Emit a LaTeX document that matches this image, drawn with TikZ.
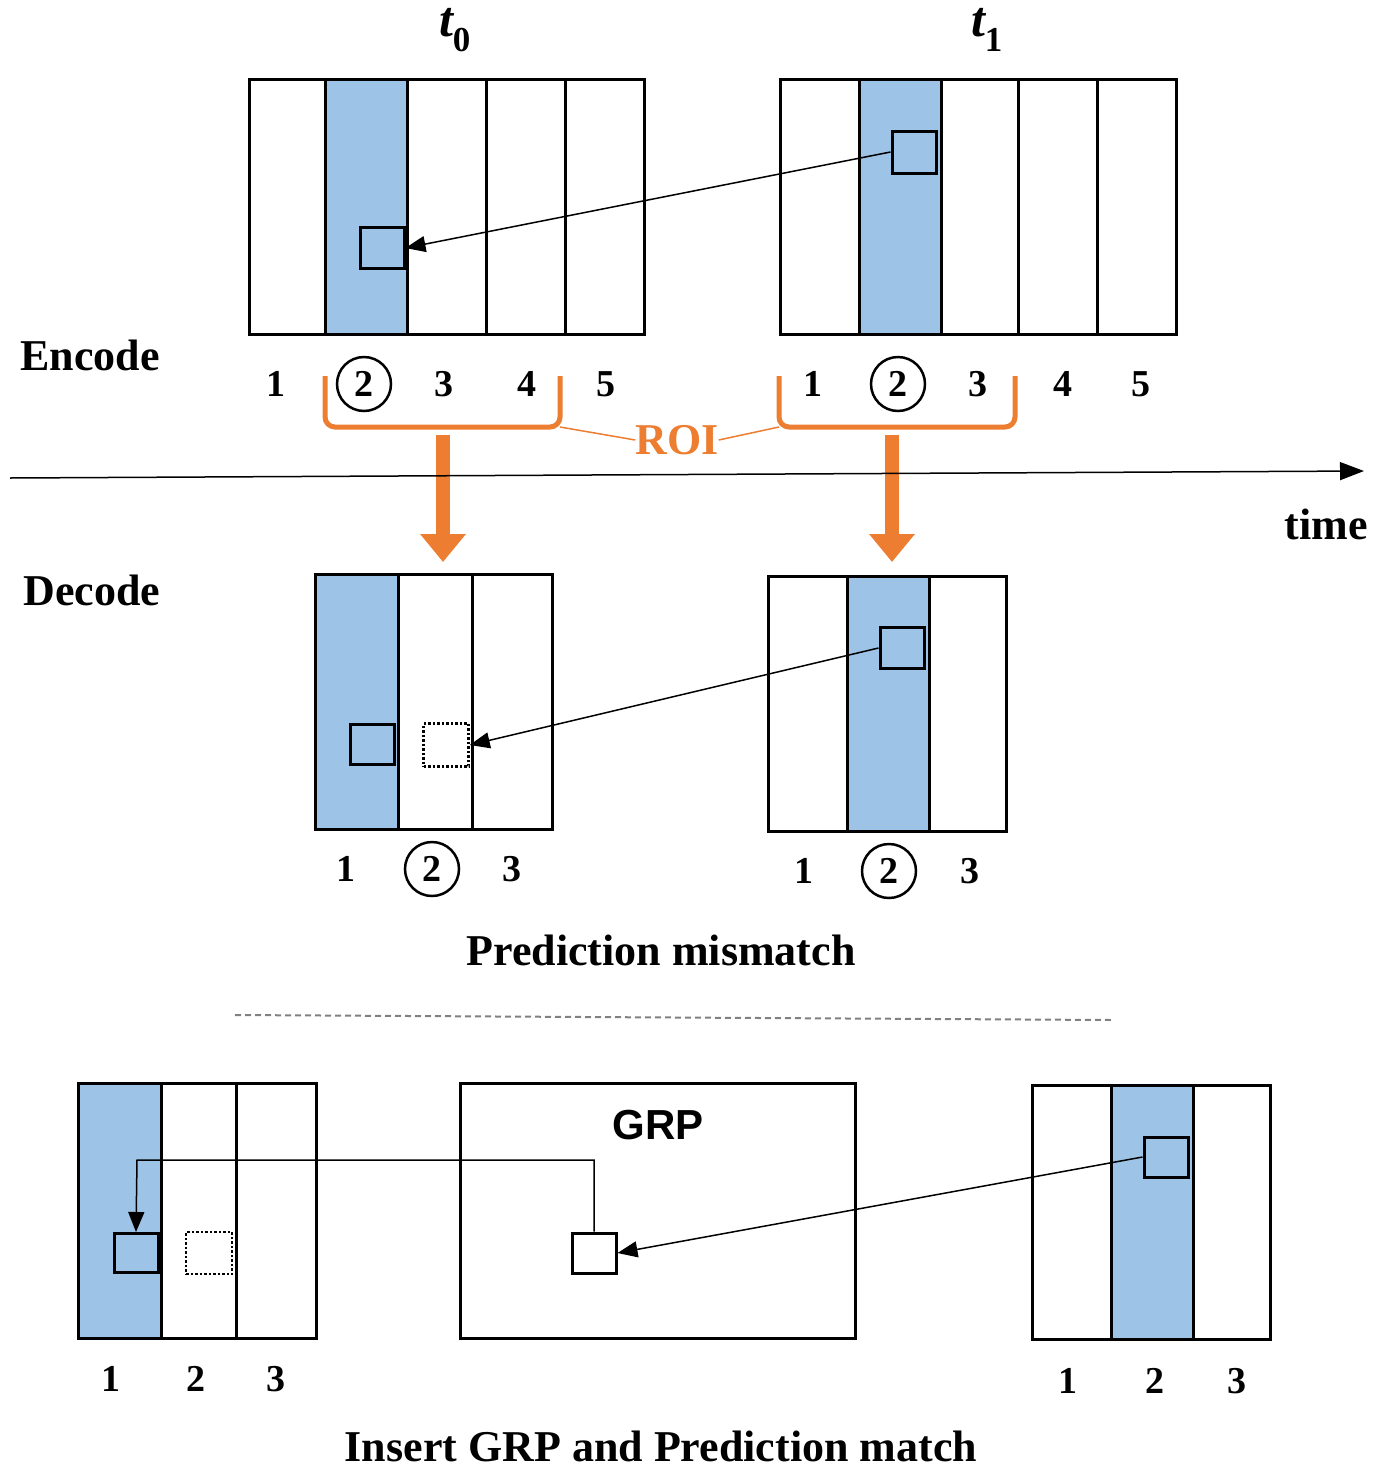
\documentclass[tikz,border=0pt]{standalone}
\usepackage{fontspec}
\setmainfont{Liberation Serif}
\newfontfamily\sansf{Liberation Sans}
\usetikzlibrary{arrows.meta}
\definecolor{roiblue}{HTML}{9DC3E6}
\definecolor{roiorange}{HTML}{ED7D31}
\begin{document}
\begin{tikzpicture}[x=1pt,y=-1pt,
  frame/.style={draw=black,line width=3pt},
  sq/.style={draw=black,line width=3pt},
  dsq/.style={draw=black,line width=2.5pt,dotted},
  lab/.style={font=\fontsize{44}{48}\selectfont\bfseries,inner sep=0pt},
  num/.style={font=\fontsize{38}{40}\selectfont\bfseries,inner sep=0pt},
  cnum/.style={num,circle,draw,line width=2.5pt,minimum size=54pt},
  mv/.style={line width=1.5pt,-{Triangle[length=20pt,width=16pt]}},
  fat/.style={draw=roiorange,line width=14pt,-{Triangle[length=28pt,width=44pt]}}]
\useasboundingbox (0,0) rectangle (1383,1470);
\newcommand{\myframe}[7]{%
  \fill[roiblue] (#5,#2) rectangle (#6,#4);
  \draw[frame] (#1,#2) rectangle (#3,#4);
  \foreach \d in {#7} {\draw[line width=3pt] (\d,#2) -- (\d,#4);}
}
% Encode
\myframe{249}{79}{644}{334}{325}{407}{325,407,486,565}
\myframe{780}{79}{1176}{334}{859}{941}{859,941,1018,1097}
\node[sq,minimum width=44pt,minimum height=41pt] (e0) at (382,248) {};
\node[sq,minimum width=44pt,minimum height=42pt] (e1) at (914,152) {};
\draw[mv] (e1.west) -- (e0.east);
\node[font=\fontsize{50}{54}\selectfont\bfseries\itshape] (t0) at (455,30) {t\textsubscript{\upshape 0}};
\node[font=\fontsize{50}{54}\selectfont\bfseries\itshape] (t1) at (987,30) {t\textsubscript{\upshape 1}};
\node[lab] (enc) at (90,355) {Encode};
\node[num] (a1) at (276,384) {1};
\node[cnum] (a2) at (364,384) {2};
\node[num] (a3) at (444,384) {3};
\node[num] (a4) at (527,384) {4};
\node[num] (a5) at (606,384) {5};
\node[num] (b1) at (813,384) {1};
\node[cnum] (b2) at (898,384) {2};
\node[num] (b3) at (978,384) {3};
\node[num] (b4) at (1063,384) {4};
\node[num] (b5) at (1141,384) {5};
% ROI brackets
\draw[roiorange,line width=5pt,rounded corners=10pt] (325,376) -- (325,427) -- (560,427) -- (560,376);
\draw[roiorange,line width=5pt,rounded corners=10pt] (779,376) -- (779,427) -- (1015,427) -- (1015,376);
\node[lab,text=roiorange] (roi) at (677,440) {ROI};
\coordinate (bl) at (560,427);
\coordinate (br) at (779,427);
\draw[roiorange,line width=1.5pt] (bl) -- (roi.west);
\draw[roiorange,line width=1.5pt] (roi.east) -- (br);
\coordinate (f0a) at (443,435); \coordinate (f0b) at (443,562);
\coordinate (f1a) at (892,435); \coordinate (f1b) at (892,562);
\draw[fat] (f0a) -- (f0b);
\draw[fat] (f1a) -- (f1b);
% time axis
\coordinate (ta) at (10,478); \coordinate (tb) at (1364,471);
\draw[line width=1.5pt,-{Triangle[length=24pt,width=18pt]}] (ta) -- (tb);
\node[lab] (time) at (1326,524) {time};
% Decode
\node[lab] (dec) at (92,590) {Decode};
\myframe{315}{574}{552}{829}{315}{398}{398,472}
\myframe{768}{576}{1006}{831}{847}{929}{847,929}
\node[sq,minimum width=44pt,minimum height=40pt] (d0) at (372,744) {};
\node[dsq,minimum width=45pt,minimum height=43pt] (d0d) at (446,745) {};
\node[sq,minimum width=44pt,minimum height=41pt] (d1) at (902,648) {};
\draw[mv] (d1.west) -- (d0d.east);
\node[num] (c1) at (346,869) {1};
\node[cnum] (c2) at (432,869) {2};
\node[num] (c3) at (512,869) {3};
\node[num] (g1) at (804,871) {1};
\node[cnum] (g2) at (889,871) {2};
\node[num] (g3) at (970,871) {3};
\node[lab] (pm) at (661,950) {Prediction mismatch};
\coordinate (s0) at (235,1015); \coordinate (s1) at (1112,1020);
\draw[gray,line width=2pt,dash pattern=on 6pt off 4pt] (s0) -- (s1);
% Bottom
\myframe{78}{1083}{316}{1338}{78}{161}{161,236}
\draw[frame] (460,1083) rectangle (855,1338);
\myframe{1032}{1085}{1270}{1339}{1111}{1193}{1111,1193}
\node[font=\sansf\fontsize{42}{46}\selectfont\bfseries] (grp) at (658,1125) {GRP};
\node[sq,minimum width=44pt,minimum height=39pt] (h0) at (136,1253) {};
\node[dsq,minimum width=46pt,minimum height=42pt] (h0d) at (209,1253) {};
\node[sq,fill=white,minimum width=44pt,minimum height=40pt] (hg) at (594,1253) {};
\node[sq,minimum width=44pt,minimum height=40pt] (h1) at (1166,1157) {};
\draw[mv] (h1.west) -- (hg.east);
\draw[mv] (hg.north) |- (137,1160) -- (h0.north);
\node[num] (k1) at (111,1379) {1};
\node[num] (k2) at (196,1379) {2};
\node[num] (k3) at (276,1379) {3};
\node[num] (m1) at (1068,1381) {1};
\node[num] (m2) at (1155,1381) {2};
\node[num] (m3) at (1237,1381) {3};
\node[lab] (ig) at (661,1446) {Insert GRP and Prediction match};
\end{tikzpicture}
\end{document}
